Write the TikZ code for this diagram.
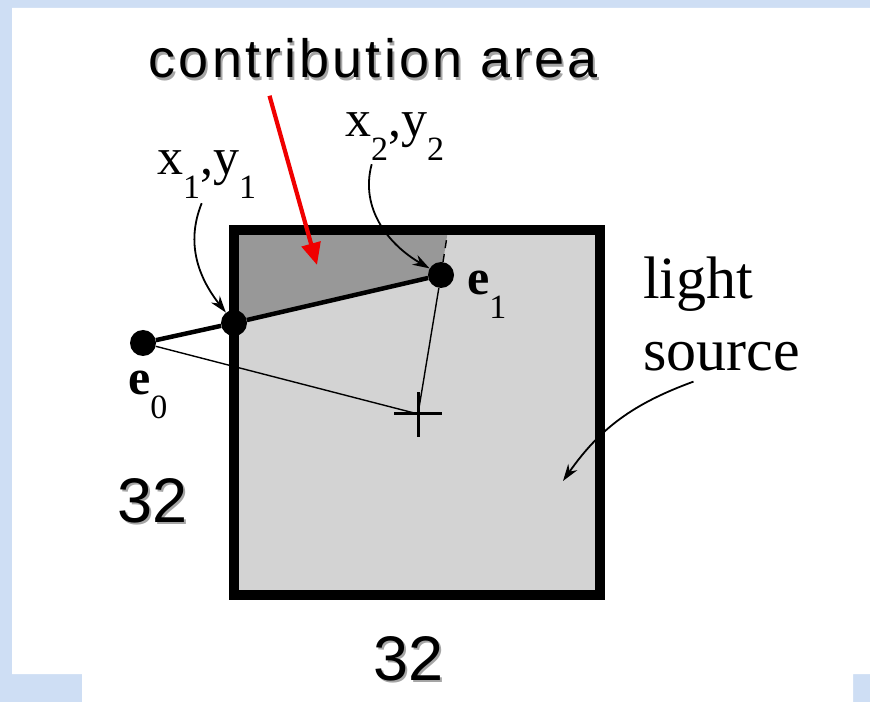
\documentclass[tikz,border=0pt]{standalone}
\usepackage{fontspec}
\setmainfont{Liberation Serif}
\newfontfamily\slidefont[LetterSpace=5.8]{Liberation Sans}
\newfontfamily\numfont{Liberation Sans}
\usetikzlibrary{arrows.meta,backgrounds}
\definecolor{slideblue}{RGB}{206,222,244}
\definecolor{srclight}{RGB}{211,211,211}
\definecolor{srcdark}{RGB}{152,152,152}
\definecolor{shadowgray}{RGB}{165,165,165}
\definecolor{arrred}{RGB}{240,0,0}
\newcommand{\lsub}[1]{\raisebox{-24pt}{\fontsize{34}{34}\selectfont #1}}

\begin{document}
\begin{tikzpicture}[x=1pt, y=1pt,
  ptdot/.style={circle, fill=black, minimum size=26pt, inner sep=0pt},
  lbl/.style={inner sep=0pt, font=\fontsize{52}{52}\selectfont},
  elbl/.style={inner sep=0pt, font=\fontsize{50}{50}\selectfont},
  srclbl/.style={inner sep=0pt, align=left, font=\fontsize{60}{72}\selectfont},
  titletxt/.style={inner sep=0pt, font=\slidefont\fontsize{54}{54}\selectfont},
  bigtxt/.style={inner sep=0pt, font=\numfont\fontsize{63}{63}\selectfont},
  thinline/.style={line width=1.4pt},
  thickline/.style={line width=4.5pt},
  crossline/.style={line width=3pt},
  arrline/.style={-{Stealth[length=17pt,width=11pt]}, line width=1.8pt},
  redarr/.style={-{Triangle[length=22pt,width=19pt]}, line width=4.2pt, color=arrred},
]
\useasboundingbox (0,0) rectangle (870,702);

\node[ptdot] (e0) at (143,359) {};
\node[ptdot] (x1) at (234,379) {};
\node[ptdot] (e1) at (441,427) {};
\coordinate (cross) at (418,288);
\coordinate (topcut) at (448,472);
\coordinate (darkpt) at (317,437);
\coordinate (srcpt) at (563,221);

\begin{scope}[on background layer]
\fill[slideblue] (0,0) rectangle (870,702);
\fill[white] (12,694) -- (870,694) -- (870,28) -- (853,28) -- (853,0) -- (82,0) -- (82,28) -- (12,28) -- cycle;
\fill[srclight] (234,107) rectangle (600,472);
\fill[srcdark] (234,472) -- (topcut) -- (e1.center) -- (x1.center) -- cycle;
\draw[line width=9.5pt] (234,107) rectangle (600,472);
\end{scope}

\draw[thinline] (e0) -- (cross);
\draw[thinline] (e1) -- (cross);
\draw[thinline, dash pattern=on 8pt off 6pt] (e1) -- (topcut);
\draw[thickline] (e0) -- (x1) -- (e1);
\draw[crossline] ([xshift=-24pt]cross) -- ([xshift=24pt]cross)
                 ([yshift=-23pt]cross) -- ([yshift=22pt]cross);

\node[elbl, anchor=base west] (le0) at (128,307) {\textbf{e}\lsub{0}};
\node[elbl, anchor=base west] (le1) at (467,407) {\textbf{e}\lsub{1}};
\node[lbl, anchor=base west] (lx1) at (157,527) {x\lsub{1},y\lsub{1}};
\node[lbl, anchor=base west] (lx2) at (345,565) {x\lsub{2},y\lsub{2}};
\node[srclbl, anchor=north west] (lsrc) at (643,445) {light\\source};

\node[titletxt, anchor=base, text=shadowgray] (title-sh) at (375.5,621.5) {contribution area};
\node[titletxt, anchor=base] (title) at (373.5,624) {contribution area};
\node[bigtxt, anchor=base, text=shadowgray] (sizeh-sh) at (154.5,177.5) {32};
\node[bigtxt, anchor=base] (sizeh) at (152.5,180) {32};
\node[bigtxt, anchor=base, text=shadowgray] (sizew-sh) at (411,19.5) {32};
\node[bigtxt, anchor=base] (sizew) at (409,22) {32};

\draw[redarr] ([xshift=-104pt,yshift=-17pt]title.south) -- (darkpt);
\draw[arrline] ([xshift=-5pt,yshift=-4pt]lx1.south) to[out=-112,in=128] (x1);
\draw[arrline] ([xshift=-23pt,yshift=-3pt]lx2.south) to[out=-105,in=150] (e1);
\draw[arrline] ([xshift=-28pt,yshift=-10pt]lsrc.south) to[out=200,in=55] (srcpt);
\end{tikzpicture}
\end{document}
